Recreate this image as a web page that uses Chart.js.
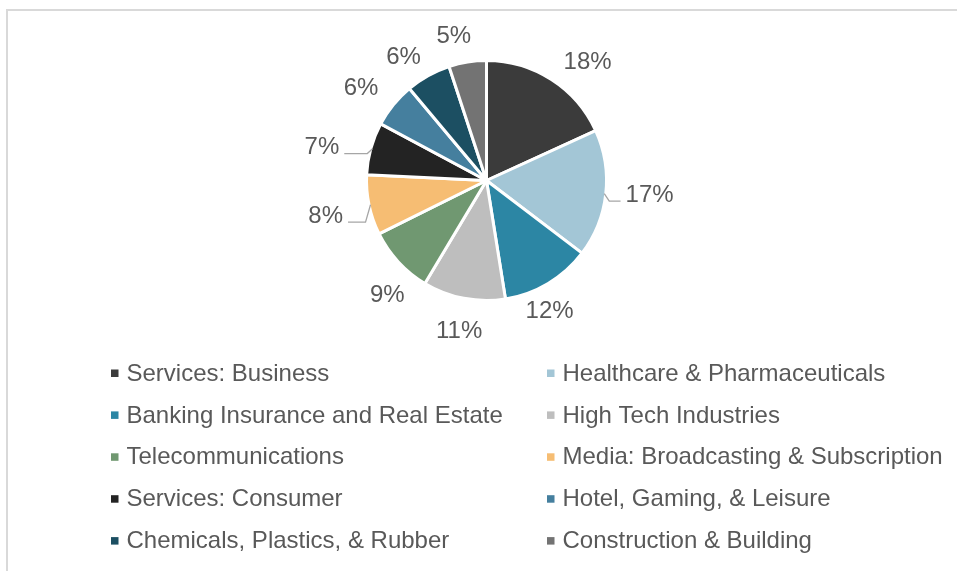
<!DOCTYPE html>
<html>
<head>
<meta charset="utf-8">
<script src="https://cdn.jsdelivr.net/npm/chart.js@4.4.1/dist/chart.umd.min.js"></script>
<style>
  html, body { margin: 0; padding: 0; background: #ffffff; }
  canvas { display: block; }
</style>
</head>
<body>
<canvas id="industryPie" width="957" height="571"></canvas>
<script>
// Industry breakdown (share of portfolio, %)
const categories = [
  'Services: Business',
  'Healthcare & Pharmaceuticals',
  'Banking Insurance and Real Estate',
  'High Tech Industries',
  'Telecommunications',
  'Media: Broadcasting & Subscription',
  'Services: Consumer',
  'Hotel, Gaming, & Leisure',
  'Chemicals, Plastics, & Rubber',
  'Construction & Building'
];
const shares = [18, 17, 12, 11, 9, 8, 7, 6, 6, 5];
const sliceColors = [
  '#3b3b3b', '#a3c6d6', '#2c86a4', '#bebebe', '#709871',
  '#f6bd73', '#232323', '#457f9e', '#1c4f62', '#737373'
];

const FONT = '24px "Liberation Sans", Arial, Helvetica, sans-serif';
const TEXT_COLOR = '#595959';

// Per-label tweaks (px) from the default outward placement, and which labels use a leader line
const labelNudge = [[20, 8], [14, -2], [-14, 2], [1, 4], [11, 13], [-14, 5], [-20, 7], [-9, 2], [-10, 8], [-9, 4]];
const leaderLine = [false, true, false, false, false, true, true, false, false, false];

// Light frame around the chart
const framePlugin = {
  id: 'frame',
  beforeDraw(chart) {
    const ctx = chart.ctx;
    ctx.save();
    ctx.strokeStyle = '#d9d9d9';
    ctx.lineWidth = 2;
    ctx.beginPath();
    ctx.moveTo(7, chart.height + 2);
    ctx.lineTo(7, 10);
    ctx.lineTo(chart.width + 2, 10);
    ctx.stroke();
    ctx.restore();
  }
};

// Percentage labels outside the slices
const percentLabels = {
  id: 'percentLabels',
  afterDatasetsDraw(chart) {
    const ctx = chart.ctx;
    const meta = chart.getDatasetMeta(0);
    const data = chart.data.datasets[0].data;
    ctx.save();
    ctx.font = FONT;
    ctx.fillStyle = TEXT_COLOR;
    ctx.textAlign = 'center';
    ctx.textBaseline = 'middle';
    meta.data.forEach((arc, i) => {
      const p = arc.getProps(['x', 'y', 'startAngle', 'endAngle', 'outerRadius'], true);
      const mid = (p.startAngle + p.endAngle) / 2;
      const cx = Math.cos(mid), cy = Math.sin(mid);
      const D = 150;
      const lx = p.x + D * cx + labelNudge[i][0];
      const ly = p.y + D * cy + labelNudge[i][1];
      const text = Math.round(data[i]) + '%';
      ctx.fillText(text, lx, ly);

      if (leaderLine[i]) {
        const w = ctx.measureText(text).width;
        const s = cx >= 0 ? 1 : -1;
        const r = p.outerRadius - 1.5;
        const sx = p.x + r * cx, sy = p.y + r * cy;
        const endY = ly + 6;
        const edgeX = lx - s * w / 2;
        ctx.save();
        ctx.strokeStyle = '#a6a6a6';
        ctx.lineWidth = 1.3;
        ctx.beginPath();
        ctx.moveTo(sx, sy);
        ctx.lineTo(sx + s * 5, endY);
        ctx.lineTo(edgeX - s * 5, endY);
        ctx.stroke();
        ctx.restore();
      }
    });
    ctx.restore();
  }
};

// Two-column legend under the pie
const gridLegend = {
  id: 'gridLegend',
  afterDraw(chart) {
    const ctx = chart.ctx;
    const labels = chart.data.labels;
    const colors = chart.data.datasets[0].backgroundColor;
    const colX = [111, 547];
    const rowY0 = 374, rowGap = 41.9;
    ctx.save();
    ctx.font = FONT;
    ctx.textAlign = 'left';
    ctx.textBaseline = 'middle';
    labels.forEach((lab, i) => {
      const col = i % 2, row = Math.floor(i / 2);
      const x = colX[col], y = rowY0 + row * rowGap;
      ctx.fillStyle = colors[i];
      ctx.fillRect(x, y - 4.5, 7.5, 7.5);
      ctx.fillStyle = TEXT_COLOR;
      ctx.fillText(lab, x + 15.5, y);
    });
    ctx.restore();
  }
};

new Chart(document.getElementById('industryPie'), {
  type: 'pie',
  data: {
    labels: categories,
    datasets: [{
      data: shares,
      backgroundColor: sliceColors,
      borderColor: '#ffffff',
      borderWidth: 3
    }]
  },
  options: {
    responsive: false,
    animation: false,
    layout: { padding: { top: 59, bottom: 269, left: 16, right: 0 } },
    plugins: {
      legend: { display: false },
      tooltip: { enabled: false }
    }
  },
  plugins: [framePlugin, percentLabels, gridLegend]
});
</script>
</body>
</html>
